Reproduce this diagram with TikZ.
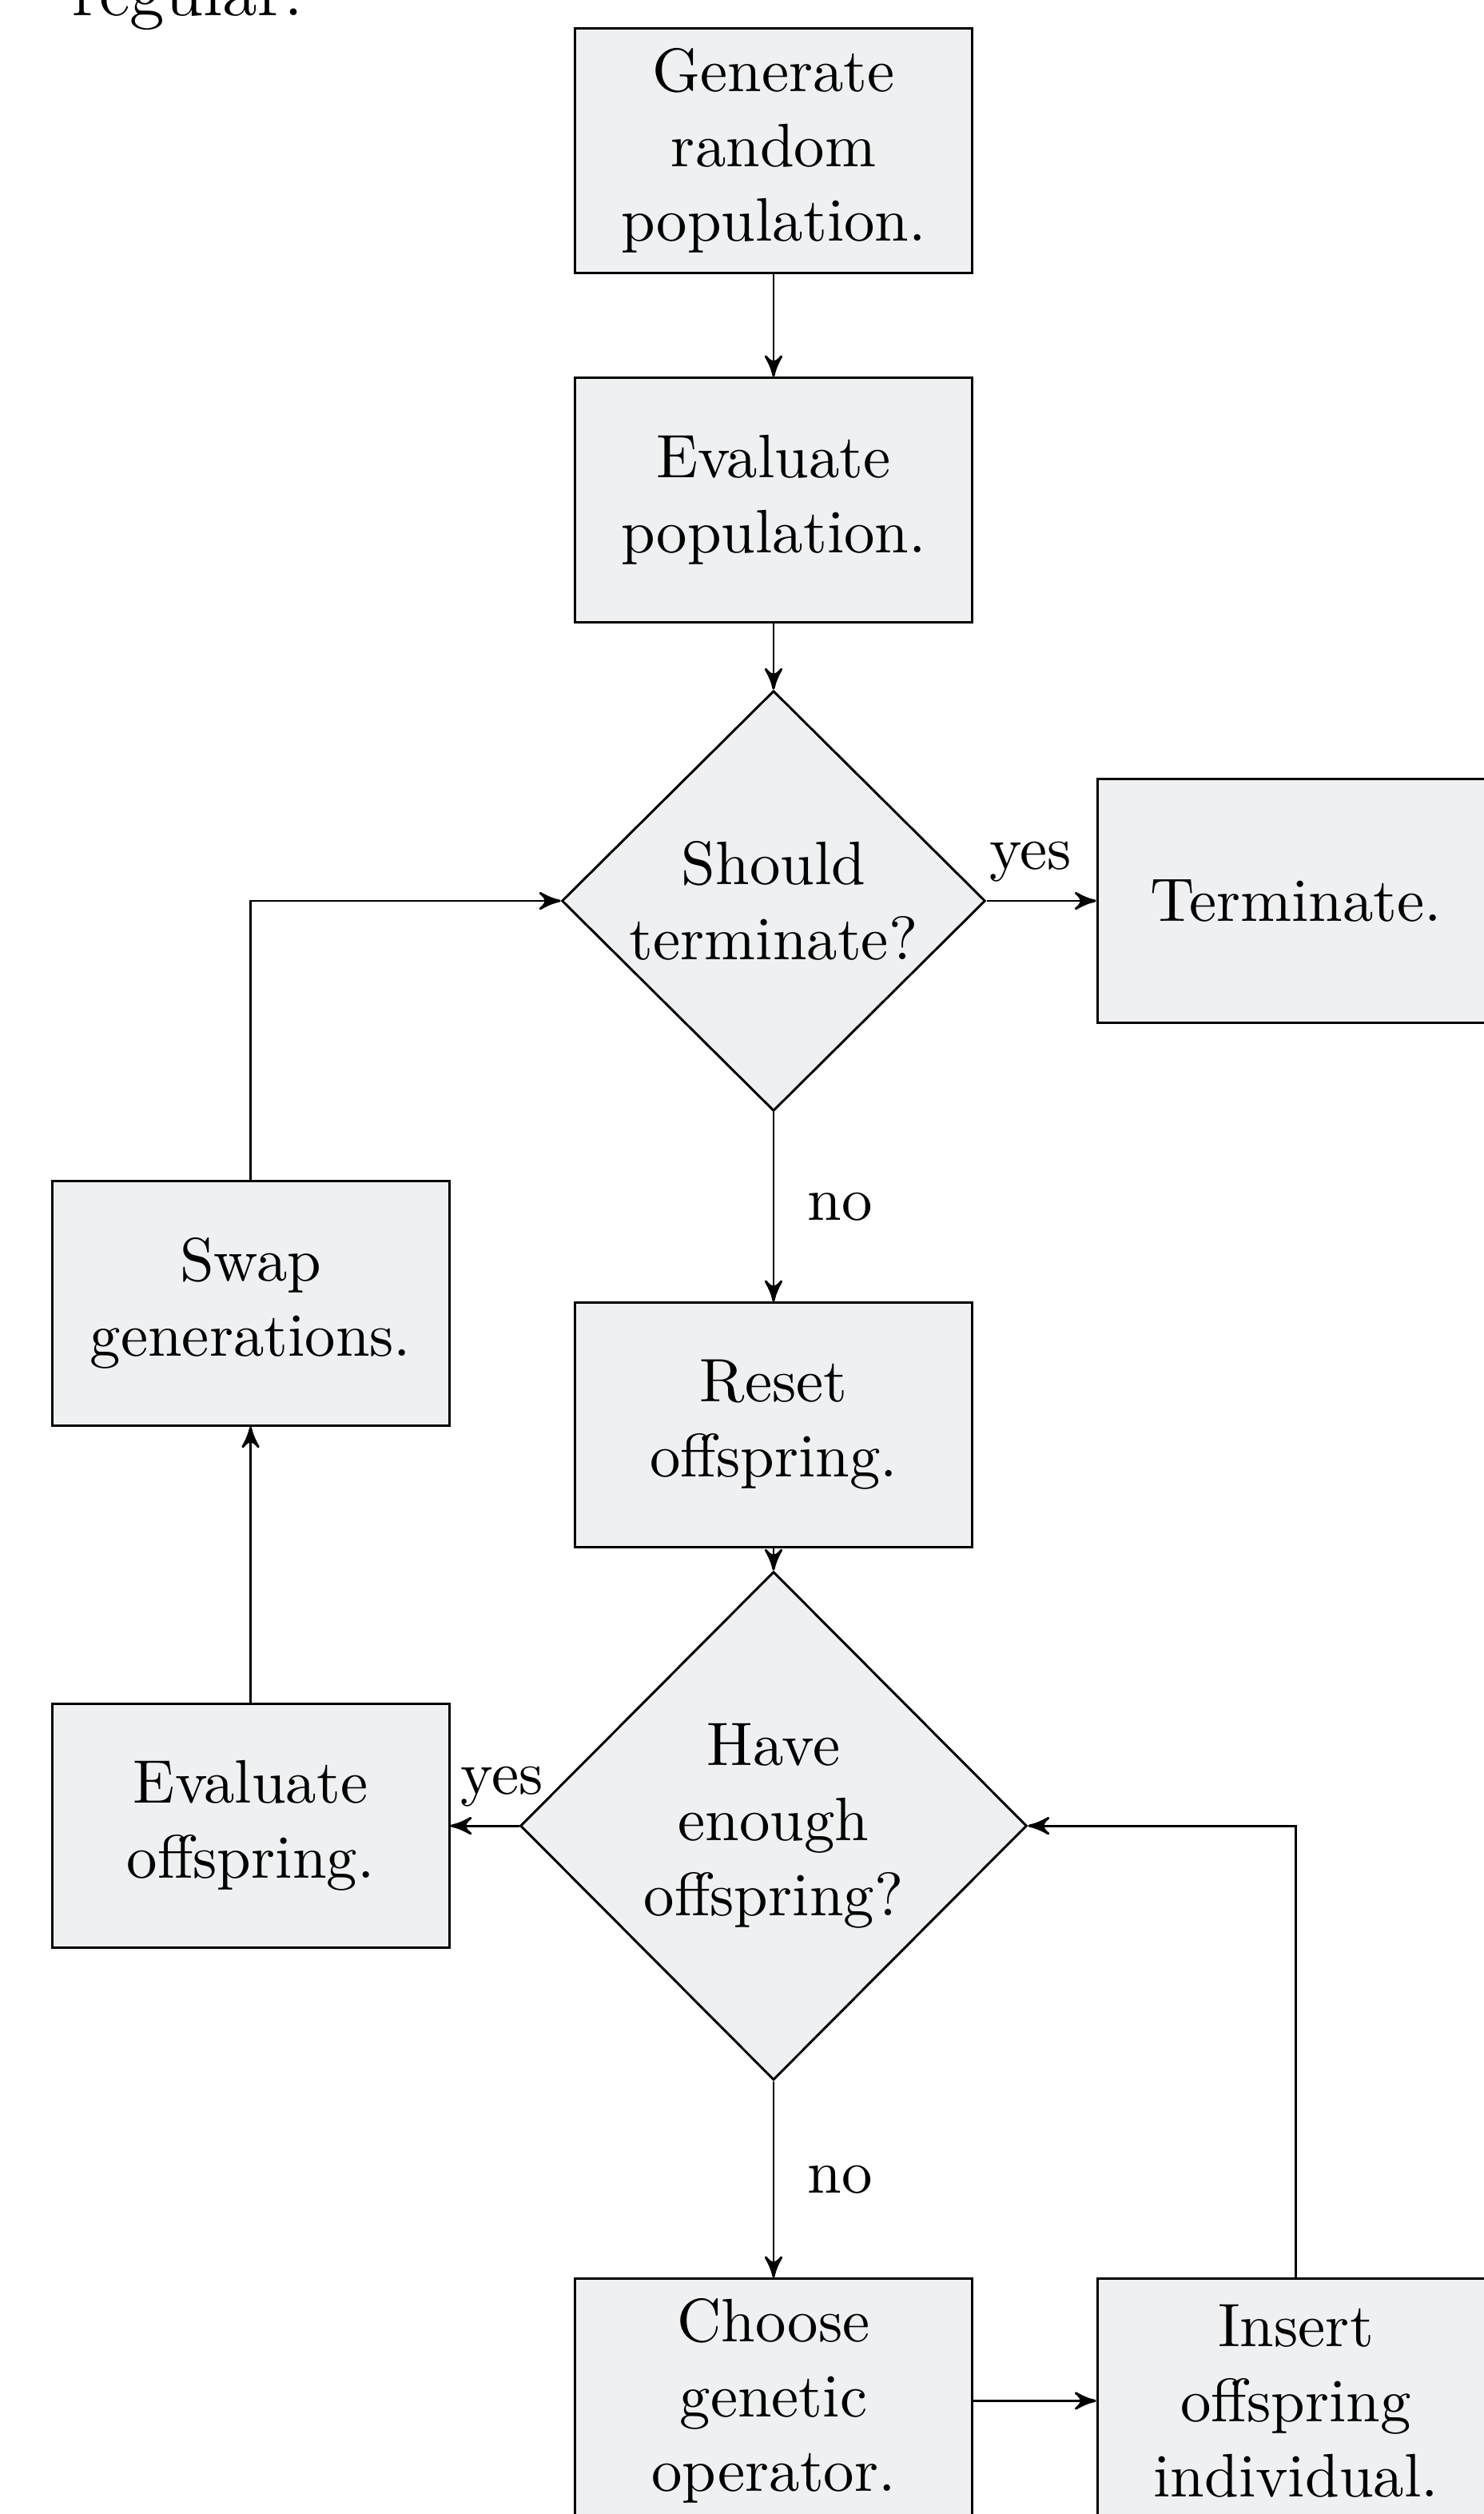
\documentclass[tikz,border=0pt]{standalone}
\usepackage{xcolor}
\usepackage{tikz}
\usetikzlibrary{arrows}
\usetikzlibrary{shapes.geometric}

\definecolor{boxgray}{RGB}{239,240,242}

\tikzset{
  block/.style = {draw, fill = boxgray, rectangle, align = center,
    minimum width = 2.344cm, minimum height = 1.44cm, inner sep = 2pt,
    font = \fontsize{10.3}{12.6}\selectfont},
  decide/.style = {draw, fill = boxgray, diamond, align = center, inner sep = 0pt,
    font = \fontsize{10.3}{12.6}\selectfont},
  lbl/.style = {font = \fontsize{10.3}{12}\selectfont, inner sep = 3pt}
}

\begin{document}
\begin{tikzpicture}[>=stealth']
\def\colx{4.566}
\def\leftx{1.479}
\def\rightx{7.649}
\useasboundingbox (0, 0) rectangle (8.759, -14.835);

% text above the figure
\node [anchor = base west, inner sep = 0pt, font = \fontsize{11.9}{14}\selectfont] (prev) at (0.42, -0.09) {regular.};

\node [block] (gen) at (\colx, -0.889) {Generate\\random\\population.};
\node [block] (evalpop) at (\colx, -2.950) {Evaluate\\population.};
\node [decide, minimum width = 2.5cm, minimum height = 2.48cm] (term) at (\colx, -5.316) {Should\\terminate?};
\node [block] (stop) at (\rightx, -5.316) {Terminate.};
\node [block] (swap) at (\leftx, -7.691) {Swap\\generations.};
\node [block] (reset) at (\colx, -8.408) {Reset\\offspring.};
\node [decide, minimum width = 2.99cm, minimum height = 3.0cm] (enough) at (\colx, -10.774) {Have\\enough\\offspring?};
\node [block] (evaloff) at (\leftx, -10.774) {Evaluate\\offspring.};
\node [block] (choose) at (\colx, -14.167) {Choose\\genetic\\operator.};
\node [block] (insert) at (\rightx, -14.167) {Insert\\offspring\\individual.};

\draw [->] (gen) -- (evalpop);
\draw [->] (evalpop) -- (term);
\draw [->] (term) -- (stop) node [lbl, pos = .4, above] {yes};
\draw [->] (term) -- (reset) node [lbl, midway, right = 2.5pt] {no};
\draw [->] (reset) -- (enough);
\draw [->] (enough) -- (evaloff) node [lbl, pos = .25, above] {yes};
\draw [->] (enough) -- (choose) node [lbl, midway, right = 2.5pt] {no};
\draw [->] (choose) -- (insert);
\draw [->] (insert.north) |- (enough.east);
\draw [->] (evaloff) -- (swap);
\draw [->] (swap.north) |- (term.west);
\end{tikzpicture}
\end{document}
